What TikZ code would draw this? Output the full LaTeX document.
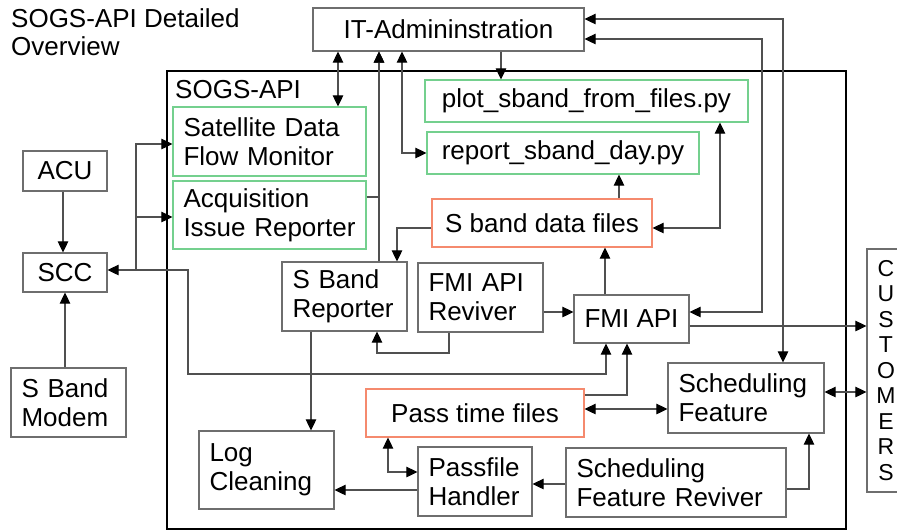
\documentclass[tikz,border=0pt]{standalone}
\usepackage{fontspec}
\setmainfont{Liberation Sans}
\usetikzlibrary{arrows.meta}
\definecolor{boxgray}{HTML}{6E6E6E}
\definecolor{wire}{HTML}{505050}
\definecolor{scriptgreen}{HTML}{74D08E}
\definecolor{fileorange}{HTML}{F58A6E}
\tikzset{
  >={Triangle[length=11pt,width=10.5pt,color=black]},
  wiring/.style={draw=wire, line width=1.1pt},
  basebox/.style={draw=boxgray, line width=1.2pt, fill=white, inner xsep=10.5pt, inner ysep=0pt,
    font=\fontsize{26}{29}\selectfont},
  tbox/.style={basebox, align=left},
  cbox/.style={basebox, align=center},
  scriptbox/.style={cbox, draw=scriptgreen},
  filebox/.style={cbox, draw=fileorange},
}
\begin{document}
\begin{tikzpicture}[x=1pt, y=-1pt]
\useasboundingbox (0,0) rectangle (897,531);

% title
\node[anchor=north west, inner sep=0pt, align=left, font=\fontsize{26}{28.5}\selectfont] (title) at (11,8.2)
  {SOGS-API Detailed\\Overview};

% SOGS-API frame
\node[draw=black, line width=2pt, minimum width=679pt, minimum height=458pt, inner sep=0pt] (sogs) at (506.5,300) {};
\node[anchor=base west, inner sep=0pt, font=\fontsize{26}{29}\selectfont] (sogslbl) at (175,98) {SOGS-API};

% nodes
\node[cbox, minimum width=271pt, minimum height=43pt] (itadmin) at (448.5,29.5) {IT-Admininstration};
\node[tbox, draw=scriptgreen, text width=172pt, minimum height=69pt] (sdfm) at (269.5,141.5) {Satellite Data\\Flow Monitor};
\node[tbox, draw=scriptgreen, text width=172pt, minimum height=68pt] (air) at (269.5,215) {Acquisition\\Issue Reporter};
\node[scriptbox, minimum width=323pt, minimum height=42pt] (plot) at (586.5,101) {plot\_sband\_from\_files.py};
\node[scriptbox, minimum width=272pt, minimum height=42pt] (report) at (563,153) {report\_sband\_day.py};
\node[filebox, minimum width=220pt, minimum height=48pt] (sbdf) at (542,223) {S band data files};
\node[tbox, text width=104pt, minimum height=69pt] (sbr) at (344.5,296.5) {S Band\\Reporter};
\node[tbox, text width=104pt, minimum height=69pt] (fmir) at (480.5,297.5) {FMI API\\Reviver};
\node[cbox, minimum width=115pt, minimum height=48pt] (fmi) at (631.5,319) {FMI API};
\node[cbox, minimum width=84pt, minimum height=40pt] (acu) at (65,171) {ACU};
\node[cbox, minimum width=84pt, minimum height=39pt] (scc) at (65,272.5) {SCC};
\node[tbox, text width=94pt, minimum height=69pt] (sbm) at (68.5,402.5) {S Band\\Modem};
\node[tbox, text width=114pt, minimum height=78pt] (log) at (266.5,470) {Log\\Cleaning};
\node[filebox, minimum width=218pt, minimum height=48pt] (ptf) at (475,413) {Pass time files};
\node[tbox, text width=93pt, minimum height=69pt] (pfh) at (475,481.5) {Passfile\\Handler};
\node[tbox, text width=199pt, minimum height=69pt] (sfr) at (676,482.5) {Scheduling\\Feature Reviver};
\node[tbox, text width=135pt, minimum height=70pt] (sf) at (746,398) {Scheduling\\Feature};
\node[draw=boxgray, line width=1.2pt, fill=white, inner sep=0pt, minimum width=38pt, minimum height=243pt,
  align=center, font=\fontsize{23}{25.5}\selectfont] (cust) at (886,370.5)
  {C\\U\\S\\T\\O\\M\\E\\R\\S};

% junction where the SCC lines split
\coordinate (sccbus) at (136,270);

% connectors
\draw[wiring, <->] (338,0 |- itadmin.south) -- (338,0 |- sdfm.north);
\draw[wiring, ->] (379,0 |- sbr.north) -- (379,0 |- itadmin.south);
\draw[wiring, ->] (air.east |- 0,197) -- (379,197) -- (379,0 |- itadmin.south);
\draw[wiring, <->] (402,0 |- itadmin.south) |- (report.west);
\draw[wiring, ->] (501,0 |- itadmin.south) -- (501,0 |- plot.north);
\draw[wiring, <->] (itadmin.east |- 0,19) -| (783,0 |- sf.north);
\draw[wiring, <->] (itadmin.east |- 0,39) -| (762,312) -- (fmi.east |- 0,312);
\draw[wiring, ->] (619,0 |- sbdf.north) -- (619,0 |- report.south);
\draw[wiring, <->] (720,0 |- plot.south) |- (sbdf.east |- 0,228);
\draw[wiring, ->] (sbdf.west |- 0,228) -| (397,0 |- sbr.north);
\draw[wiring, ->] (605,0 |- fmi.north) -- (605,0 |- sbdf.south);
\draw[wiring, ->] (fmir.east |- 0,312) -- (fmi.west |- 0,312);
\draw[wiring, ->] (449,0 |- fmir.south) -- (449,353) -| (377,0 |- sbr.south);
\draw[wiring, ->] (fmi.east |- 0,326) -- (cust.west |- 0,326);
\draw[wiring, <->] (sf.east |- 0,392) -- (cust.west |- 0,392);
\draw[wiring, <->] (ptf.east |- 0,409) -- (sf.west |- 0,409);
\draw[wiring, ->] (ptf.east |- 0,395) -| (627,0 |- fmi.south);
\draw[wiring, <->] (scc.east |- sccbus) -| (188,374) -| (606,0 |- fmi.south);
\draw[wiring, ->] (sccbus) |- (sdfm.west |- 0,144);
\draw[wiring, ->] (136,217) -- (air.west |- 0,217);
\draw[wiring, ->] (63,0 |- acu.south) -- (63,0 |- scc.north);
\draw[wiring, ->] (65,0 |- sbm.north) -- (65,0 |- scc.south);
\draw[wiring, ->] (311,0 |- sbr.south) -- (311,0 |- log.north);
\draw[wiring, ->] (pfh.west |- 0,490) -- (log.east |- 0,490);
\draw[wiring, <->] (388,0 |- ptf.south) |- (pfh.west |- 0,472);
\draw[wiring, ->] (sfr.west |- 0,484) -- (pfh.east |- 0,484);
\draw[wiring, ->] (sfr.east |- 0,489) -| (809,0 |- sf.south);
\end{tikzpicture}
\end{document}
